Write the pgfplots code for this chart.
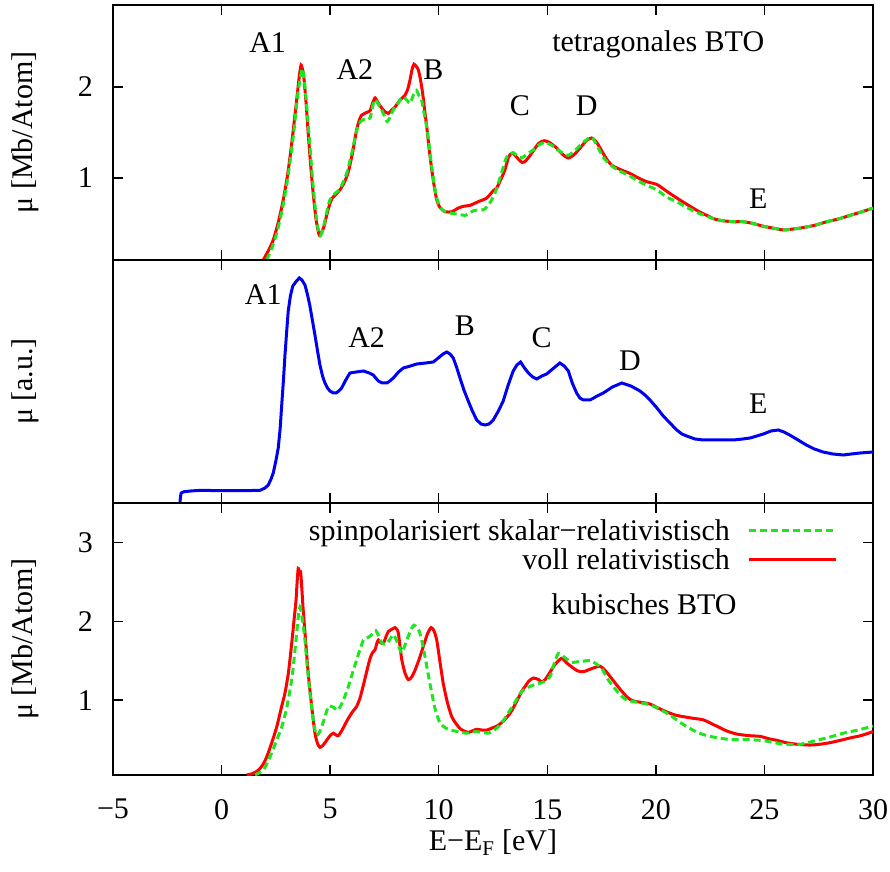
\documentclass[border=0pt]{standalone}
\usepackage{fontspec}
\setmainfont{Liberation Serif}
\usepackage{pgfplots}
\pgfplotsset{compat=1.18}

\definecolor{gpred}{RGB}{255,0,0}
\definecolor{gpgreen}{RGB}{30,230,30}
\definecolor{gpblue}{RGB}{0,0,240}

\pgfplotsset{
  panel/.style={
    scale only axis, width=760bp,
    xmin=-5, xmax=30,
    xtick={-5,0,5,10,15,20,25,30},
    tick align=inside, major tick length=10bp,
    axis line style={line width=1.8bp},
    every tick/.style={black, line width=1.4bp},
    /pgf/number format/assume math mode=true,
    anchor=south west,
    clip=true,
    ylabel style={at={(axis description cs:-0.1158,0.5)}, anchor=center},
    yticklabel style={xshift=-10bp},
    xticklabel style={yshift=-14bp},
  },
  redline/.style={gpred, line width=3bp},
  greenline/.style={gpgreen, line width=3bp, dash pattern=on 7bp off 4bp},
}

\begin{document}
\fontsize{30bp}{36bp}\selectfont
\begin{tikzpicture}[font=\fontsize{30bp}{36bp}\selectfont]

% ---------------- tetragonal BTO (calculated) ----------------
\begin{axis}[panel, at={(0bp,515bp)}, height=255bp,
  ymin=0.1, ymax=2.9, ytick={1,2},
  xticklabels=\empty,
  ylabel={μ [Mb/Atom]}]
\addplot[redline, smooth, tension=0.4] coordinates {
(1.92,0.10) (2.15,0.20) (2.38,0.32) (2.62,0.52) (2.84,0.76) (3.05,1.05) (3.23,1.38)
(3.46,1.86) (3.58,2.12) (3.66,2.24) (3.74,2.18) (3.80,2.08) (3.90,1.80) (3.99,1.49)
(4.10,1.15) (4.22,0.83) (4.35,0.55) (4.50,0.37) (4.60,0.40) (4.72,0.47) (4.85,0.60)
(4.99,0.72) (5.10,0.78) (5.22,0.81) (5.45,0.87) (5.65,0.95) (5.84,1.07) (6.05,1.30)
(6.22,1.53) (6.35,1.64) (6.45,1.69) (6.68,1.72) (6.84,1.74) (6.95,1.82) (7.07,1.88)
(7.20,1.83) (7.37,1.77) (7.52,1.73) (7.68,1.71) (7.85,1.75) (7.99,1.78) (8.20,1.85)
(8.45,1.91) (8.58,1.98) (8.68,2.08) (8.78,2.20) (8.86,2.25) (8.95,2.23) (9.06,2.19)
(9.16,2.08) (9.26,1.93) (9.35,1.75) (9.45,1.56) (9.56,1.32) (9.68,1.09) (9.80,0.90)
(9.91,0.76) (10.05,0.68) (10.29,0.63) (10.60,0.63) (10.90,0.67) (11.15,0.69) (11.44,0.70)
(11.82,0.74) (12.21,0.78) (12.51,0.86) (12.67,0.89) (12.85,0.98) (13.05,1.09) (13.20,1.22)
(13.30,1.26) (13.43,1.27) (13.55,1.24) (13.70,1.20) (13.85,1.17) (13.97,1.18) (14.15,1.23)
(14.36,1.30) (14.60,1.38) (14.86,1.41) (15.10,1.39) (15.43,1.33) (15.70,1.26) (15.97,1.22)
(16.25,1.26) (16.51,1.33) (16.80,1.41) (17.04,1.44) (17.25,1.40) (17.43,1.33) (17.70,1.22)
(17.97,1.14) (18.40,1.09) (18.81,1.05) (19.20,1.00) (19.58,0.96) (20.04,0.93) (20.35,0.88)
(20.65,0.83) (21.10,0.76) (21.57,0.69) (22.00,0.63) (22.34,0.59) (22.70,0.55) (23.11,0.53)
(23.60,0.52) (24.03,0.52) (24.50,0.50) (24.95,0.47) (25.40,0.45) (25.87,0.43) (26.30,0.44)
(26.64,0.45) (27.30,0.48) (27.87,0.52) (28.40,0.55) (28.94,0.59) (29.50,0.63) (30.00,0.67)
};
\addplot[greenline, smooth, tension=0.4] coordinates {
(2.07,0.10) (2.30,0.22) (2.55,0.40) (2.80,0.66) (3.05,1.00) (3.30,1.45) (3.50,1.90)
(3.64,2.12) (3.72,2.20) (3.80,2.10) (3.90,1.85) (4.02,1.50) (4.15,1.10) (4.28,0.75)
(4.40,0.50) (4.53,0.37) (4.65,0.42) (4.80,0.58) (4.99,0.76) (5.22,0.83) (5.45,0.88)
(5.76,1.05) (6.00,1.28) (6.22,1.52) (6.40,1.62) (6.53,1.64) (6.70,1.64) (6.84,1.66)
(6.97,1.80) (7.07,1.86) (7.20,1.82) (7.37,1.75) (7.50,1.68) (7.63,1.62) (7.78,1.68)
(7.91,1.75) (8.15,1.83) (8.37,1.89) (8.55,1.85) (8.68,1.82) (8.85,1.92) (8.98,1.96)
(9.10,1.90) (9.20,1.87) (9.32,1.72) (9.45,1.56) (9.57,1.34) (9.68,1.12) (9.80,0.92)
(9.91,0.78) (10.05,0.69) (10.21,0.64) (10.45,0.62) (10.67,0.61) (10.95,0.60) (11.21,0.59)
(11.40,0.61) (11.59,0.64) (11.85,0.65) (12.05,0.65) (12.25,0.69) (12.44,0.76) (12.60,0.84)
(12.74,0.94) (12.95,1.10) (13.13,1.23) (13.43,1.28) (13.62,1.24) (13.82,1.22) (14.05,1.26)
(14.36,1.31) (14.60,1.36) (14.86,1.39) (15.20,1.36) (15.60,1.29) (15.97,1.25) (16.30,1.31)
(16.70,1.40) (17.04,1.45) (17.30,1.35) (17.60,1.22) (18.04,1.12) (18.40,1.07) (18.81,1.02)
(19.40,0.94) (20.04,0.87) (20.50,0.79) (20.96,0.74) (21.40,0.68) (21.90,0.62) (22.34,0.58)
(22.70,0.55) (23.11,0.53) (23.60,0.52) (24.03,0.52) (24.50,0.50) (24.95,0.47) (25.40,0.45)
(25.87,0.43) (26.30,0.44) (26.64,0.45) (27.30,0.48) (27.87,0.52) (28.40,0.55) (28.94,0.59)
(29.50,0.63) (30.00,0.67)
};
\node at (axis cs:2.12,2.49) {A1};
\node at (axis cs:6.14,2.19) {A2};
\node at (axis cs:9.75,2.19) {B};
\node at (axis cs:13.74,1.79) {C};
\node at (axis cs:16.81,1.79) {D};
\node at (axis cs:24.72,0.77) {E};
\node[anchor=base] at (axis cs:20.11,2.387) {tetragonales BTO};
\end{axis}

% ---------------- measured spectrum ----------------
\begin{axis}[panel, at={(0bp,272bp)}, height=243bp,
  ymin=0, ymax=2.43, ytick=\empty,
  xticklabels=\empty,
  ylabel={μ [a.u.]}]
\addplot[gpblue, line width=3bp] coordinates {
(-1.91,0.00) (-1.90,0.05) (-1.86,0.10) (-1.75,0.112) (-1.61,0.116) (-1.30,0.122) (-0.99,0.126)
(-0.50,0.125) (0.00,0.124) (0.54,0.123) (1.00,0.124) (1.40,0.125) (1.77,0.127) (2.00,0.15)
(2.15,0.18) (2.28,0.24) (2.38,0.30) (2.50,0.42) (2.61,0.55) (2.70,0.75) (2.77,0.98)
(2.85,1.23) (2.92,1.48) (3.00,1.72) (3.07,1.92) (3.17,2.07) (3.28,2.17) (3.45,2.22)
(3.58,2.25) (3.70,2.23) (3.84,2.18) (3.95,2.09) (4.06,1.98) (4.18,1.83) (4.30,1.68)
(4.42,1.52) (4.53,1.38) (4.65,1.27) (4.76,1.20) (4.88,1.15) (4.99,1.12) (5.15,1.10)
(5.27,1.10) (5.40,1.12) (5.53,1.15) (5.72,1.23) (5.91,1.30) (6.20,1.31) (6.53,1.32)
(6.80,1.30) (6.99,1.28) (7.10,1.25) (7.22,1.22) (7.40,1.20) (7.61,1.20) (7.75,1.22)
(7.91,1.25) (8.15,1.31) (8.37,1.35) (8.70,1.37) (8.99,1.39) (9.40,1.40) (9.75,1.41)
(9.98,1.45) (10.20,1.49) (10.37,1.51) (10.52,1.49) (10.67,1.45) (10.82,1.36) (10.98,1.25)
(11.16,1.13) (11.36,1.02) (11.55,0.92) (11.75,0.83) (11.95,0.79) (12.13,0.78) (12.32,0.79)
(12.51,0.83) (12.75,0.92) (12.97,1.02) (13.20,1.18) (13.43,1.32) (13.60,1.38) (13.77,1.41)
(13.95,1.35) (14.13,1.30) (14.33,1.26) (14.51,1.24) (14.75,1.27) (14.97,1.29) (15.30,1.35)
(15.58,1.40) (15.78,1.37) (15.97,1.32) (16.15,1.20) (16.35,1.10) (16.50,1.05) (16.66,1.03)
(16.97,1.03) (17.30,1.07) (17.58,1.10) (18.00,1.16) (18.43,1.20) (18.85,1.17) (19.27,1.12)
(19.50,1.08) (19.73,1.03) (20.05,0.95) (20.34,0.87) (20.65,0.80) (20.96,0.73) (21.20,0.69)
(21.42,0.67) (21.80,0.64) (22.19,0.63) (22.80,0.63) (23.57,0.63) (24.00,0.64) (24.34,0.65)
(24.65,0.67) (24.95,0.69) (25.30,0.72) (25.64,0.73) (25.90,0.71) (26.16,0.68) (26.55,0.63)
(26.93,0.58) (27.30,0.54) (27.70,0.51) (28.15,0.49) (28.63,0.48) (29.00,0.49) (29.40,0.50)
(30.00,0.51)
};
\node at (axis cs:1.92,2.08) {A1};
\node at (axis cs:6.68,1.65) {A2};
\node at (axis cs:11.21,1.77) {B};
\node at (axis cs:14.74,1.65) {C};
\node at (axis cs:18.81,1.42) {D};
\node at (axis cs:24.72,0.99) {E};
\end{axis}

% ---------------- cubic BTO (calculated) ----------------
\begin{axis}[panel, at={(0bp,0bp)}, height=272bp,
  ymin=0.05, ymax=3.5, ytick={1,2,3},
  xticklabels={−5,0,5,10,15,20,25,30},
  xlabel={E−E\textsubscript{F} [eV]},
  xlabel style={at={(axis description cs:0.5,0)}, anchor=base, yshift=-75bp},
  ylabel={μ [Mb/Atom]},
  legend plot pos=right,
  legend cell align=right,
  legend image code/.code={\draw[#1] (0bp,3bp) -- (87bp,3bp);},
  legend style={draw=none, fill=none, inner sep=0pt,
    at={(axis cs:28.39,3.30)}, anchor=north east,
    /tikz/column sep=18bp, /tikz/row sep=0bp,
    nodes={inner sep=0pt, text height=22bp, text depth=7bp}},
  ]
\addlegendimage{greenline}
\addlegendentry{spinpolarisiert skalar−relativistisch}
\addlegendimage{redline}
\addlegendentry{voll relativistisch}
\addplot[redline, smooth, tension=0.4, forget plot] coordinates {
(1.16,0.05) (1.45,0.07) (1.69,0.11) (1.90,0.18) (2.08,0.28) (2.30,0.45) (2.54,0.66)
(2.75,0.90) (2.92,1.09) (3.08,1.35) (3.23,1.72) (3.35,2.05) (3.43,2.27) (3.48,2.50)
(3.53,2.67) (3.58,2.62) (3.64,2.63) (3.70,2.40) (3.76,2.14) (3.88,1.72) (3.99,1.34)
(4.15,0.92) (4.30,0.58) (4.42,0.45) (4.53,0.40) (4.68,0.43) (4.84,0.49) (5.00,0.55)
(5.15,0.58) (5.25,0.56) (5.38,0.55) (5.55,0.62) (5.76,0.73) (6.00,0.84) (6.22,0.92)
(6.38,1.03) (6.53,1.19) (6.70,1.38) (6.84,1.53) (6.95,1.60) (7.07,1.64) (7.15,1.72)
(7.22,1.76) (7.32,1.73) (7.45,1.72) (7.58,1.81) (7.68,1.87) (7.85,1.90) (7.99,1.92)
(8.07,1.90) (8.14,1.85) (8.22,1.68) (8.30,1.51) (8.45,1.34) (8.60,1.26) (8.75,1.29)
(8.91,1.38) (9.10,1.52) (9.29,1.68) (9.48,1.84) (9.65,1.92) (9.78,1.88) (9.91,1.76)
(10.05,1.50) (10.21,1.21) (10.40,0.97) (10.60,0.79) (10.80,0.70) (10.98,0.64) (11.15,0.61)
(11.36,0.59) (11.55,0.61) (11.75,0.63) (12.00,0.62) (12.21,0.62) (12.50,0.65) (12.74,0.68)
(13.00,0.74) (13.28,0.83) (13.43,0.90) (13.62,1.00) (13.82,1.11) (13.97,1.17) (14.15,1.24)
(14.36,1.28) (14.60,1.26) (14.74,1.23) (14.90,1.26) (15.05,1.32) (15.35,1.45) (15.66,1.53)
(15.90,1.47) (16.13,1.42) (16.40,1.37) (16.66,1.36) (17.05,1.40) (17.43,1.43) (17.65,1.38)
(17.89,1.30) (18.20,1.19) (18.50,1.09) (18.75,1.02) (18.96,0.99) (19.35,0.97) (19.73,0.95)
(20.10,0.90) (20.50,0.85) (20.90,0.81) (21.26,0.79) (21.70,0.77) (22.18,0.75) (22.50,0.71)
(22.80,0.67) (23.25,0.61) (23.72,0.57) (24.25,0.55) (24.80,0.54) (25.20,0.51) (25.57,0.49)
(26.00,0.46) (26.49,0.44) (27.10,0.43) (27.55,0.44) (28.02,0.46) (28.50,0.49) (28.94,0.52)
(29.45,0.55) (30.00,0.60)
};
\addplot[greenline, smooth, tension=0.4, forget plot] coordinates {
(1.54,0.05) (1.75,0.08) (1.92,0.11) (2.10,0.20) (2.31,0.33) (2.55,0.50) (2.77,0.66)
(3.00,0.90) (3.23,1.26) (3.35,1.55) (3.46,1.85) (3.54,2.08) (3.61,2.18) (3.68,2.10)
(3.76,1.95) (3.84,1.76) (3.95,1.42) (4.07,1.09) (4.20,0.80) (4.35,0.56) (4.48,0.58)
(4.61,0.66) (4.75,0.78) (4.92,0.92) (5.05,0.92) (5.15,0.91) (5.33,0.87) (5.45,0.91)
(5.61,1.00) (5.85,1.18) (6.07,1.38) (6.30,1.58) (6.53,1.76) (6.70,1.79) (6.84,1.81)
(7.00,1.86) (7.11,1.88) (7.22,1.82) (7.37,1.73) (7.50,1.71) (7.60,1.71) (7.75,1.77)
(7.91,1.83) (8.05,1.76) (8.22,1.64) (8.30,1.60) (8.45,1.70) (8.60,1.81) (8.75,1.91)
(8.86,1.95) (9.00,1.92) (9.11,1.87) (9.25,1.72) (9.37,1.55) (9.52,1.32) (9.68,1.09)
(9.85,0.87) (10.06,0.71) (10.30,0.65) (10.52,0.62) (10.90,0.60) (11.29,0.58) (11.70,0.60)
(12.00,0.59) (12.29,0.58) (12.50,0.61) (12.74,0.66) (13.00,0.75) (13.28,0.87) (13.55,0.99)
(13.82,1.11) (14.10,1.16) (14.36,1.19) (14.60,1.21) (14.82,1.23) (15.13,1.30) (15.30,1.45)
(15.51,1.59) (15.80,1.54) (16.13,1.48) (16.50,1.49) (16.97,1.50) (17.25,1.46) (17.51,1.40)
(17.75,1.28) (18.04,1.17) (18.35,1.07) (18.66,1.00) (19.20,0.97) (19.73,0.94) (20.20,0.88)
(20.65,0.81) (21.10,0.72) (21.57,0.64) (22.00,0.58) (22.49,0.54) (22.90,0.52) (23.41,0.50)
(24.10,0.50) (24.80,0.49) (25.30,0.47) (25.87,0.44) (26.30,0.44) (26.64,0.44) (27.00,0.46)
(27.41,0.49) (28.00,0.53) (28.63,0.58) (29.30,0.62) (30.00,0.67)
};
\node[anchor=base] at (axis cs:19.45,2.08) {kubisches BTO};
\end{axis}

\pgfresetboundingbox
\path[use as bounding box] (-113bp,-97bp) rectangle (777bp,775bp);
\end{tikzpicture}
\end{document}
